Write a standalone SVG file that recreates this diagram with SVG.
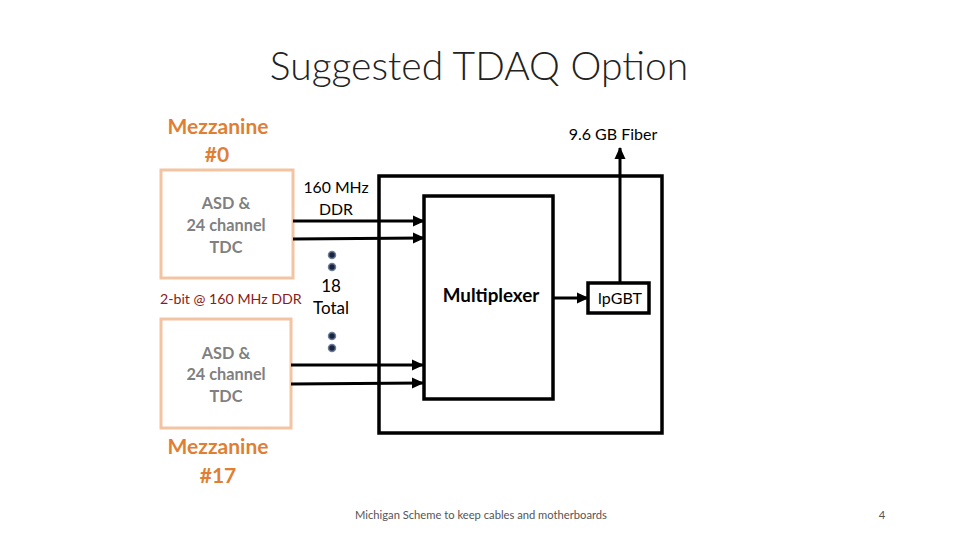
<svg xmlns="http://www.w3.org/2000/svg" width="960" height="540" viewBox="0 0 960 540">
<defs>
<marker id="ah" markerWidth="12" markerHeight="12" refX="11" refY="6" orient="auto" markerUnits="userSpaceOnUse">
<path d="M0,0.5 L12,6 L0,11.5 z" fill="#000"/>
</marker>
<style>
.t{font-family:Lato,"Open Sans","Liberation Sans",sans-serif}
.mez{fill:#fff;stroke:#F2C4A2;stroke-width:3}
.box{fill:#fff;stroke:#000;stroke-width:3.5}
.asd{font-weight:bold;fill:#808080;font-size:16.3px;text-anchor:middle}
.org{font-weight:bold;fill:#E07F33;font-size:21px;text-anchor:middle}
.blk{fill:#000;text-anchor:middle}
.ln{stroke:#000;stroke-width:3;fill:none}
.dot{fill:#1a2540;stroke:#6d7d98;stroke-width:1.5}
</style>
</defs>
<rect width="960" height="540" fill="#fff"/>
<text class="t" x="479" y="80" font-size="39" font-weight="300" text-anchor="middle" fill="#222">Suggested TDAQ Option</text>

<g id="mezzanine0">
<text class="t org" x="218" y="134">Mezzanine</text>
<text class="t org" x="217" y="162">#0</text>
<rect class="mez" x="161" y="170" width="132" height="108"/>
<text class="t asd" x="226" y="209">ASD &amp;</text>
<text class="t asd" x="226" y="231">24 channel</text>
<text class="t asd" x="226" y="253">TDC</text>
</g>

<g id="mezzanine17">
<rect class="mez" x="161" y="319" width="130" height="109"/>
<text class="t asd" x="226" y="359">ASD &amp;</text>
<text class="t asd" x="226" y="380">24 channel</text>
<text class="t asd" x="226" y="402">TDC</text>
<text class="t org" x="218" y="454">Mezzanine</text>
<text class="t org" x="218" y="483">#17</text>
</g>

<g id="board">
<rect class="box" x="379" y="176" width="283" height="257"/>
</g>

<g id="multiplexer">
<rect class="box" x="424" y="196" width="129" height="203"/>
<text class="t blk" x="491" y="302" font-size="18.8" font-weight="bold">Multiplexer</text>
</g>

<g id="lpgbt">
<rect class="box" x="588" y="283" width="61" height="30"/>
<text class="t blk" x="620" y="304" font-size="16">lpGBT</text>
</g>

<g id="labels">
<text class="t blk" x="336" y="193" font-size="15.8">160 MHz</text>
<text class="t blk" x="336" y="215" font-size="15.8">DDR</text>
<text class="t blk" x="331" y="292" font-size="17">18</text>
<text class="t blk" x="331" y="314" font-size="17">Total</text>
<text class="t" x="160" y="304" font-size="14.2" fill="#8B1A1A">2-bit @ 160 MHz DDR</text>
<text class="t blk" x="613" y="140" font-size="16">9.6 GB Fiber</text>
<circle class="dot" cx="332" cy="255" r="3.5"/>
<circle class="dot" cx="332" cy="267" r="3.5"/>
<circle class="dot" cx="332" cy="336" r="3.5"/>
<circle class="dot" cx="332" cy="348" r="3.5"/>
</g>

<g id="connectors">
<line class="ln" x1="293" y1="221" x2="424" y2="221" marker-end="url(#ah)"/>
<line class="ln" x1="293" y1="239" x2="424" y2="238" marker-end="url(#ah)"/>
<line class="ln" x1="291" y1="365" x2="423" y2="365" marker-end="url(#ah)"/>
<line class="ln" x1="291" y1="384" x2="423" y2="383" marker-end="url(#ah)"/>
<line class="ln" x1="553" y1="298" x2="588" y2="298" marker-end="url(#ah)"/>
<line class="ln" x1="620" y1="283" x2="620" y2="148" marker-end="url(#ah)"/>
</g>

<text class="t" x="355" y="519" font-size="11.2" fill="#555">Michigan Scheme to keep cables and motherboards</text>
<text class="t" x="882" y="519" font-size="11.2" fill="#555" text-anchor="middle">4</text>
</svg>
